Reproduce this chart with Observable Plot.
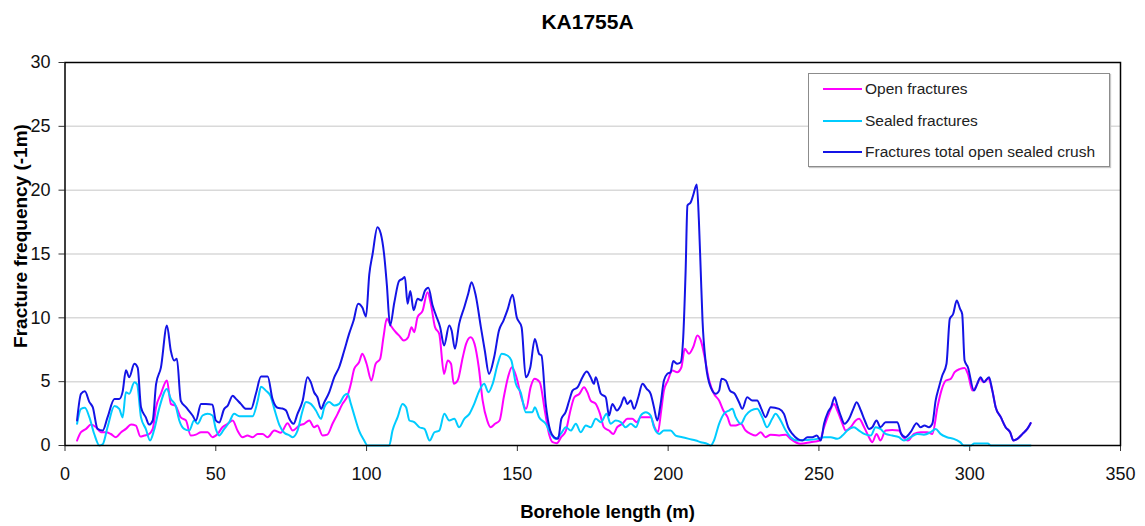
<!DOCTYPE html>
<html>
<head>
<meta charset="utf-8">
<script src="https://cdn.jsdelivr.net/npm/d3@7"></script>
<script src="https://cdn.jsdelivr.net/npm/@observablehq/plot@0.6"></script>
<style>
  html, body { margin: 0; padding: 0; background: #fff; }
  #wrap { position: relative; width: 1145px; height: 526px; overflow: hidden; font-family: "Liberation Sans", Arial, sans-serif; }
  #title { height: 40px; position: relative; }
  .abs { position: absolute; white-space: nowrap; line-height: 1; }
  #title span { position: absolute; left: 587.5px; top: 20.5px; transform: translate(-50%, -50%); font-weight: bold; font-size: 21px; color: #000; white-space: nowrap; line-height: 1; }
  #xlab { left: 607.5px; top: 511.5px; transform: translate(-50%, -50%); font-weight: bold; font-size: 18.5px; color: #000; }
  #ylab { left: 20px; top: 235.5px; transform: translate(-50%, -50%) rotate(-90deg); font-weight: bold; font-size: 19px; color: #000; }
  #legend { position: absolute; left: 808px; top: 73px; width: 300px; height: 92px; border: 1px solid #8c8c8c; box-shadow: 1px 1px 1px #c8c8c8; background: #fff; }
  .lrow { position: absolute; left: 14px; height: 16px; display: flex; align-items: center; }
  .lrow i { display: inline-block; width: 39px; height: 2px; margin-right: 3px; }
  .lrow span { font-size: 15.5px; color: #222; line-height: 1; }
</style>
</head>
<body>
<div id="wrap">
  <div id="title"><span></span></div>
  <div id="chart"></div>
  <div id="xlab" class="abs"></div>
  <div id="ylab" class="abs"></div>
  <div id="legend"></div>
</div>
<script>
const chartTitle = "KA1755A";
const xLabel = "Borehole length (m)";
const yLabel = "Fracture frequency (-1m)";
const xTicks = [0, 50, 100, 150, 200, 250, 300, 350];
const yTicks = [0, 5, 10, 15, 20, 25, 30];
const seriesNames = ["Open fractures", "Sealed fractures", "Fractures total open sealed crush"];
const seriesColors = ["#ff00ff", "#00ccff", "#1414e6"];

// [borehole length (m), fracture frequency]
const openFractures = [[4,0.39],[5.3,1.04],[7,1.3],[8.6,1.64],[10.3,1.43],[11.9,1.04],[13.6,1.04],[15.2,0.9],[16.9,0.65],[18.6,1.04],[20.2,1.3],[21.9,1.64],[23.5,1.56],[25,0.7],[26.3,0.78],[27.6,0.85],[29.1,1.3],[30.2,3.0],[31.8,4.05],[33.8,5.1],[35.1,3.26],[36.7,3.1],[38.4,2.2],[40.1,1.96],[41.7,0.78],[43.4,0.85],[45.1,1.04],[47.3,1.04],[48.9,0.65],[50.6,0.9],[52.2,1.43],[53.9,1.7],[55.6,1.96],[57.2,1.17],[58.9,0.65],[60.5,0.78],[62.2,0.65],[63.9,0.9],[65.5,0.9],[67.2,0.65],[69.4,1.17],[71.6,1.0],[73.8,1.75],[75.5,1.17],[77.7,1.57],[79.3,1.7],[81,1.96],[82.6,1.43],[83.7,1.57],[85.4,0.78],[87,0.85],[88.7,1.7],[90.4,2.48],[92,3.26],[93.7,3.9],[94.8,4.83],[95.9,6.0],[97.5,6.52],[98.6,7.18],[100,6.4],[101.6,5.09],[103,6.4],[104.5,6.79],[105.6,8.48],[106.7,9.92],[108,9.4],[109.7,8.87],[110.8,8.61],[112.3,8.22],[113.8,8.48],[114.9,9.27],[115.8,8.87],[116.9,10.05],[118.6,10.57],[120.2,12.0],[121.3,11.1],[122.7,9.27],[124.1,8.74],[125.7,5.61],[126.9,6.66],[128,6.4],[128.9,4.83],[130.2,5.09],[131.9,6.92],[133,7.96],[134.5,8.48],[135.8,7.96],[137.2,6.13],[138.5,3.52],[140,1.96],[141.1,1.43],[142.6,1.7],[144.1,1.96],[145.5,3.78],[146.9,5.35],[148.2,6.13],[149.7,5.35],[151.3,3.78],[152.9,2.87],[154.4,4.57],[155.7,5.22],[157.4,4.96],[159.1,2.74],[160.5,0.91],[161.7,0.26],[163.1,0.18],[164.5,0.65],[166.1,1.17],[167.6,2.74],[168.9,3.78],[170.6,4.05],[172.1,4.57],[173.2,4.18],[174.3,3.52],[176,3.26],[177.4,2.48],[178.7,1.43],[180.4,1.17],[181.8,0.91],[183.1,1.43],[184.8,1.7],[186.5,2.09],[188.1,2.09],[189.6,1.83],[190.9,2.22],[192.6,2.22],[194.2,2.22],[195.5,1.43],[196.6,1.04],[197.7,2.74],[198.6,4.3],[199.9,5.09],[201.4,5.87],[203,5.74],[204.4,6.13],[205.5,7.57],[206.9,7.18],[208.3,7.7],[209.7,8.61],[211,8.1],[212.1,6.92],[213.6,5.09],[215.2,4.05],[216.9,3.52],[218.3,2.74],[219.7,2.22],[220.8,1.57],[222.4,1.57],[224.1,1.7],[225.7,1.17],[227.4,0.91],[229,0.78],[230.7,1.04],[232.3,0.65],[234,0.85],[236.8,0.78],[239,0.85],[240.6,0.52],[243.9,0.13],[247.2,0.26],[250.3,0.39],[251.7,1.43],[253.3,2.48],[255,3.26],[256.1,2.74],[257.8,1.7],[258.9,1.17],[260.5,1.43],[262.2,1.96],[263.3,2.09],[265,1.43],[266.6,0.65],[267.7,0.26],[269.1,0.91],[270.4,0.39],[272.1,1.17],[274.3,1.22],[276.5,1.17],[277.9,0.65],[279.5,0.39],[281.5,0.91],[283.7,1.04],[285.9,1.04],[287.6,0.91],[289.3,3.0],[290.6,4.3],[292.1,5.09],[293.7,5.22],[295,5.74],[296.8,6.0],[298.3,6.08],[299.4,5.61],[300.9,4.3],[302,4.57],[303.4,5.22],[304.7,4.96],[306.1,5.22],[307.5,4.3],[308.6,3.0],[310.3,2.22],[311.9,1.43],[313.4,1.04],[314.5,0.39],[315.8,0.52],[317.5,0.91],[319.1,1.3],[320.2,1.75]];

const sealedFractures = [[4,1.7],[5.3,2.87],[6.6,2.95],[8.1,2.2],[9.7,0.9],[11.4,0.0],[12.5,0.1],[14.1,1.43],[16.4,3.1],[18,2.87],[19.1,2.2],[20.2,4.17],[21.3,4.05],[23,4.96],[23.9,4.8],[25.2,2.2],[26.8,1.3],[28.2,0.4],[29.5,1.17],[31.2,2.87],[33.8,4.43],[35.1,3.65],[36.7,3.1],[37.9,1.96],[39.5,1.3],[41.2,1.17],[42.8,1.96],[44,1.7],[45.6,2.35],[47.3,2.48],[48.9,2.35],[50,1.3],[51.1,0.78],[52.8,1.3],[54.4,1.8],[56.1,2.48],[57.8,2.3],[60,2.3],[62.2,2.3],[63.9,3.5],[65,4.6],[66.6,4.3],[68.1,3.9],[69.4,2.87],[71.1,1.6],[72.7,1.0],[74.4,0.8],[75.5,0.65],[77.1,1.17],[78.8,2.74],[79.9,3.4],[81.5,3.26],[83.2,2.74],[84.9,2.09],[86,3.0],[87.6,3.4],[89.3,3.13],[90.9,3.26],[92.6,3.92],[93.7,4.05],[94.8,3.26],[96.1,2.22],[97.5,1.17],[99.2,0.39],[100.3,0],[103.6,0],[107.5,0],[108.6,1.17],[110.3,2.22],[111.9,3.26],[113.1,3.0],[114.2,1.96],[115.8,1.83],[117.5,1.43],[119.2,1.3],[120.9,0.39],[122.5,1.04],[124.1,1.17],[125.8,2.48],[127.4,1.96],[129.1,2.09],[130.7,1.43],[132.4,2.09],[134.1,2.48],[135.7,3.26],[137.4,4.3],[139,4.83],[140.4,4.17],[141.8,4.83],[143.5,6.4],[144.8,7.18],[146.7,7.05],[148,6.66],[149.5,4.83],[151.1,4.17],[152.8,2.61],[155,2.61],[155.8,3.0],[157.2,2.22],[159.4,1.7],[161.1,0.91],[162.7,0.52],[164.4,0.91],[166.1,1.43],[167.7,1.17],[169.4,1.7],[171,1.04],[172.7,1.57],[174.3,1.43],[176,2.09],[177.7,1.83],[179.6,2.48],[180.9,1.7],[182.6,1.96],[184.3,1.83],[185.9,1.43],[187.6,1.7],[189.3,1.43],[190.9,2.35],[192.6,2.61],[194.2,2.35],[195.3,1.43],[197,0.91],[198.6,1.17],[200.8,1.17],[202.5,0.78],[204.7,0.65],[206.9,0.52],[209.2,0.39],[210.8,0.26],[213,0.13],[214.1,0],[215.2,0.39],[216.9,1.7],[218.5,2.48],[220.2,2.74],[221.3,2.87],[222.4,2.22],[224.1,1.7],[225.7,2.35],[227.4,2.74],[229.5,2.87],[231.2,2.22],[232.8,1.43],[234.5,2.09],[235.6,2.48],[237.3,1.96],[239,1.17],[240.6,0.65],[242.9,0.39],[246.2,0.44],[249.5,0.52],[251.7,0.65],[253.9,0.65],[256.1,0.52],[257.8,0.78],[259.4,1.17],[261.6,1.43],[263.3,1.17],[265,0.91],[267.2,0.78],[268.8,1.43],[270.4,1.3],[272.1,0.91],[274.3,0.78],[276.5,0.65],[278.2,0.39],[280.4,0.65],[282.6,0.91],[284.8,0.85],[287,1.04],[288.7,1.3],[290.3,0.91],[292.5,0.65],[294.7,0.52],[296.8,0.26],[298.1,0],[300.4,0],[301.5,0.15],[306,0.15],[307,0],[320.2,0]];

const totalFractures = [[4,1.96],[5.3,4.05],[6.6,4.25],[8.1,3.4],[9.2,3.0],[10.8,1.3],[12.5,1.17],[14.1,2.2],[16.4,3.65],[18,3.65],[19.1,4.2],[20.2,5.9],[21.3,5.35],[23,6.4],[24.1,6.1],[25.2,3.0],[26.8,2.2],[27.9,1.64],[29.1,1.96],[30.2,4.8],[31.8,6.1],[33.8,9.4],[35.1,7.4],[36.2,6.65],[37.1,6.8],[38.4,3.5],[40.1,3.0],[42.3,2.35],[43.4,1.96],[45.1,3.26],[46.7,3.26],[48.9,3.2],[50,1.96],[51.1,1.8],[52.8,2.87],[53.9,3.1],[55.6,3.9],[56.7,3.65],[58.3,3.26],[60,2.87],[61.7,2.87],[63.3,4.05],[65,5.4],[67.2,5.4],[68.8,3.65],[70.5,2.95],[72.1,2.9],[73.3,2.74],[74.4,2.09],[75.8,1.7],[77.1,2.48],[78.8,3.5],[80.4,5.35],[81.5,4.96],[82.6,4.17],[83.7,3.78],[84.9,2.87],[86,3.4],[87.6,4.17],[89.3,5.35],[90.9,6.13],[92.6,7.44],[94.2,8.74],[95.7,9.79],[97.2,11.1],[98.6,10.8],[99.8,10.1],[100.9,13.4],[102,15.0],[103.6,17.1],[104.7,16.6],[105.8,15.0],[106.7,12.66],[107.8,9.4],[109.2,11.2],[110.8,12.9],[111.9,13.05],[112.7,13.2],[113.6,11.1],[114.5,12.1],[115.6,10.6],[116.9,11.5],[118.2,11.35],[119.3,12.1],[120.5,12.35],[121.9,10.96],[123,10.2],[124.4,9.27],[125.7,7.83],[127.4,9.4],[128.2,9.0],[129.3,7.57],[130.7,9.53],[132.4,10.83],[133.7,11.88],[134.8,12.79],[136.2,11.75],[137.9,9.27],[139.2,7.44],[140.6,5.61],[142.3,6.91],[143.9,9.0],[145.4,9.79],[146.7,10.6],[148.4,11.8],[149.8,10.05],[151.4,9.27],[152.8,5.35],[154.3,6.13],[155.8,8.35],[157.2,7.18],[158,7.05],[159.4,3.26],[160.9,1.17],[162.2,0.65],[163.5,0.52],[164.6,2.09],[166,2.61],[167.2,3.52],[168.3,4.3],[170,4.57],[171.6,5.35],[173,5.79],[174.3,5.35],[175.4,4.83],[176,5.35],[177.7,4.05],[179.3,3.78],[180.4,2.35],[181.5,3.26],[183,2.74],[184.3,3.13],[185.4,3.78],[186.5,3.26],[187.6,3.52],[188.7,2.87],[190.1,3.78],[191.5,4.83],[192.9,4.44],[194.2,4.05],[195.3,3.0],[196.4,1.96],[197.5,3.26],[198.6,5.09],[199.7,5.61],[200.8,5.74],[201.7,6.61],[203,6.4],[204.1,6.5],[205,8.48],[205.8,13.7],[206.4,18.8],[207.5,19.05],[208.3,19.6],[209.5,20.44],[210.2,17.6],[210.8,13.7],[211.4,9.79],[212.5,6.4],[214.1,4.57],[215.8,4.05],[216.9,4.3],[217.7,5.22],[219.1,5.09],[220.5,4.3],[222.1,4.05],[223.5,3.39],[224.6,2.87],[226.2,3.78],[227.9,3.52],[229.5,3.52],[230.9,2.87],[232.3,2.22],[234,3.0],[236.8,2.87],[238.4,2.48],[239.8,1.43],[241.2,0.91],[242.9,0.52],[244.5,0.39],[246.2,0.65],[247.8,0.65],[249.3,0.78],[250.6,0.39],[251.7,1.7],[253,2.61],[254.1,3.05],[255.2,3.78],[256.1,3.13],[257.2,2.35],[258.5,1.7],[260,2.09],[261.4,2.87],[262.5,3.39],[263.9,2.74],[265.2,1.96],[266.6,1.3],[267.7,1.43],[269.1,1.96],[270.4,1.43],[272.1,1.83],[273.8,1.83],[276,1.83],[277.3,0.91],[278.7,0.65],[280.4,1.04],[282.4,1.75],[283.7,1.43],[285,1.57],[286.5,1.43],[287.6,1.7],[288.7,3.52],[289.8,4.57],[290.9,5.48],[292.3,6.4],[293.4,9.92],[294.5,10.3],[295.7,11.35],[296.8,10.7],[297.5,10.3],[298.3,6.66],[299.4,6.13],[301.4,4.3],[302.5,4.83],[303.6,5.35],[304.7,4.96],[306.4,5.35],[307.5,4.3],[308.6,3.0],[310.3,2.22],[311.9,1.43],[313.4,1.04],[314.5,0.39],[315.8,0.52],[317.5,0.91],[319.1,1.3],[320.2,1.75]];

document.querySelector("#title span").textContent = chartTitle;
document.getElementById("xlab").textContent = xLabel;
document.getElementById("ylab").textContent = yLabel;

const legendEl = document.getElementById("legend");
const rowTops = [7, 39, 70];
seriesNames.forEach((name, i) => {
  const row = document.createElement("div");
  row.className = "lrow";
  row.style.top = rowTops[i] + "px";
  const sw = document.createElement("i");
  sw.style.background = seriesColors[i];
  const tx = document.createElement("span");
  tx.textContent = name;
  row.appendChild(sw);
  row.appendChild(tx);
  legendEl.appendChild(row);
});

const series = [openFractures, sealedFractures, totalFractures];

const chart = Plot.plot({
  width: 1145,
  height: 486,
  marginTop: 22,
  marginRight: 25,
  marginBottom: 81,
  marginLeft: 64.5,
  x: { domain: [0, 350] },
  y: { domain: [0, 30] },
  style: { fontFamily: '"Liberation Sans", Arial, sans-serif', fontSize: "18px", color: "#111", background: "#fff" },
  marks: [
    Plot.gridY(yTicks.filter(d => d > 0 && d < 30), { stroke: "#d9d9d9", strokeOpacity: 1, strokeWidth: 1.5 }),
    Plot.axisX(xTicks, { tickSize: 6, tickPadding: 15.5, label: null, fontSize: 18, stroke: "#333" }),
    Plot.axisY(yTicks, { tickSize: 6, tickPadding: 8.5, label: null, fontSize: 18, stroke: "#333" }),
    ...series.map((s, i) => Plot.line(s, { x: d => d[0], y: d => d[1], stroke: seriesColors[i], strokeWidth: 2, curve: "monotone-x" })),
    Plot.frame({ stroke: "#000", strokeWidth: 1.5 })
  ]
});
document.getElementById("chart").appendChild(chart);
</script>
</body>
</html>
